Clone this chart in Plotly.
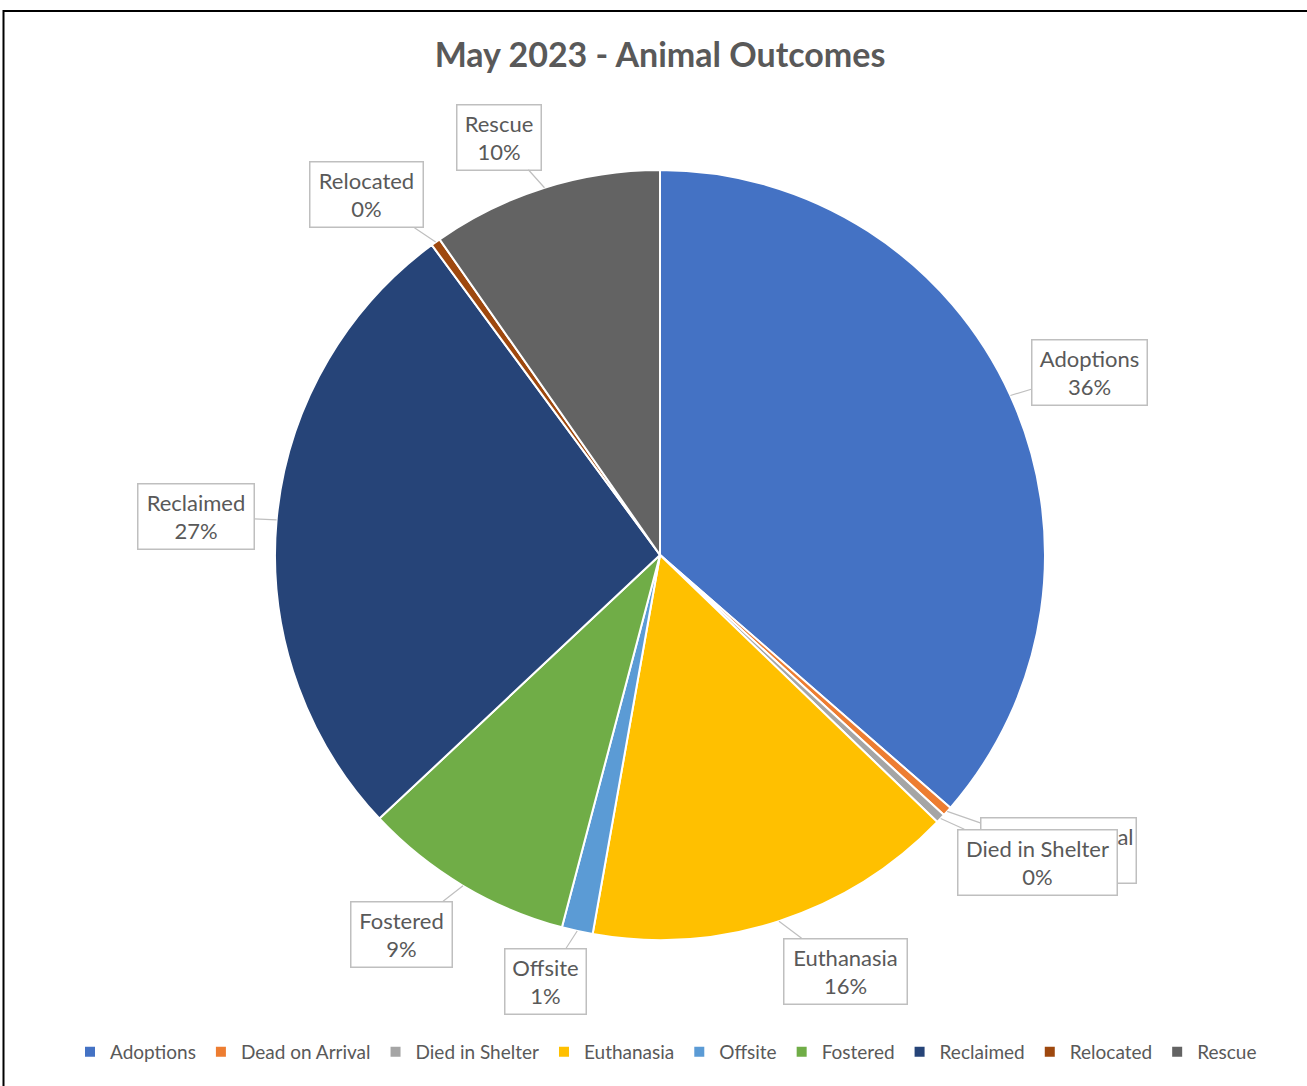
import math
import plotly.graph_objects as go

# ---- data ----
categories = ["Adoptions", "Dead on Arrival", "Died in Shelter", "Euthanasia",
              "Offsite", "Fostered", "Reclaimed", "Relocated", "Rescue"]
counts = [364, 4, 4, 156, 13, 89, 269, 4, 97]
colors = ["#4472C4", "#ED7D31", "#A5A5A5", "#FFC000", "#5B9BD5",
          "#70AD47", "#264478", "#9E480E", "#636363"]
title_text = "May 2023 - Animal Outcomes"

# ---- layout geometry (pixels in the final screenshot) ----
W, H = 1307, 1086
OFF = 0  # page body margin removed by post_script
CX, CY, R = 660, 555, 385
FONT = "Lato"
TXT = "#595959"


def fx(px):
    return (px - OFF) / W


def fy(py):
    return 1 - (py - OFF) / H


# label box centres and sizes (pixels)
label_boxes = {
    "Adoptions": (1089, 372, 117, 67),
    "Dead on Arrival": (1058, 850, 157, 67),
    "Died in Shelter": (1037, 862, 161, 67),
    "Euthanasia": (845, 971, 125, 67),
    "Offsite": (545, 981, 83, 67),
    "Fostered": (401, 934, 103, 67),
    "Reclaimed": (196, 516, 118, 67),
    "Relocated": (366, 195, 115, 67),
    "Rescue": (499, 137, 86, 67),
}

fig = go.Figure(go.Pie(
    labels=categories,
    values=counts,
    sort=False,
    direction="clockwise",
    rotation=0,
    marker=dict(colors=colors, line=dict(color="white", width=2)),
    textinfo="none",
    hoverinfo="label+percent",
    domain=dict(x=[fx(CX - R), fx(CX + R)],
                y=[fy(CY + R), fy(CY - R)]),
))

total = sum(counts)
annotations = []
cum = 0
for name, v in zip(categories, counts):
    mid = (cum + v / 2) / total * 2 * math.pi
    cum += v
    px = CX + R * math.sin(mid)
    py = CY - R * math.cos(mid)
    bx, by, bw, bh = label_boxes[name]
    pct = round(v / total * 100)
    annotations.append(dict(
        x=fx(px), y=fy(py), xref="paper", yref="paper",
        ax=bx - px, ay=by - py, axref="pixel", ayref="pixel",
        text=f"{name}<br>{pct}%",
        showarrow=True, arrowhead=0, arrowwidth=1.2, arrowcolor="#BFBFBF",
        standoff=0,
        font=dict(family=FONT, size=22, color=TXT),
        bgcolor="white", bordercolor="#BFBFBF", borderwidth=1.5, borderpad=0,
        width=bw - 3, height=bh - 3, align="center", valign="middle",
    ))

fig.update_layout(
    width=W, height=H,
    margin=dict(l=0, r=0, t=0, b=0),
    paper_bgcolor="white",
    title=dict(text=f"<b>{title_text}</b>", x=fx(660), xanchor="center",
               y=fy(55), yanchor="middle",
               font=dict(family=FONT, size=34, color=TXT)),
    legend=dict(orientation="h", x=fx(666), xanchor="center",
                y=fy(1052), yanchor="middle",
                font=dict(family=FONT, size=19, color=TXT),
                itemwidth=30, traceorder="normal"),
    annotations=annotations,
    shapes=[dict(type="rect", xref="paper", yref="paper",
                 x0=fx(3.5), x1=1.05, y0=-0.05, y1=fy(11),
                 line=dict(color="black", width=2))],
)

fig.write_html("out.html",
               config={"displayModeBar": False},
               post_script="document.body.style.margin='0';")
